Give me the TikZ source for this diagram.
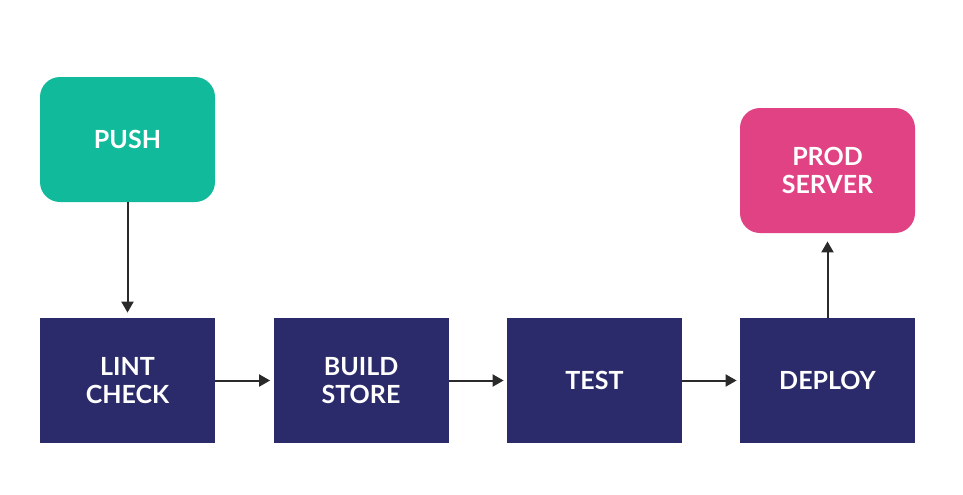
\documentclass[tikz,border=0pt]{standalone}
\usepackage{fontspec}
\setmainfont{Lato}
\usetikzlibrary{arrows.meta}
\definecolor{pushgreen}{HTML}{10BA9B}
\definecolor{stagenavy}{HTML}{2B2A6A}
\definecolor{prodpink}{HTML}{E04284}
\definecolor{arrowgray}{HTML}{2A2A2A}
\begin{document}
\begin{tikzpicture}[x=0.5pt, y=-0.5pt]
\tikzstyle{basic}=[minimum width=87.5pt, minimum height=62.5pt, inner sep=0pt, align=center, text=white, font=\bfseries\fontsize{12.5}{14}\selectfont]
\tikzstyle{stage}=[basic, fill=stagenavy]
\tikzstyle{trigger}=[basic, fill=pushgreen, rounded corners=10pt]
\tikzstyle{target}=[basic, fill=prodpink, rounded corners=10pt]
\tikzstyle{edgestyle}=[line width=1pt, draw=arrowgray, -{Triangle[length=5.5pt, width=6pt]}, shorten >=1.5pt]
\useasboundingbox (0,0) rectangle (963,494);
\node[trigger] (op0o0) at (127.5,139.5) {PUSH};
\node[target] (op0o3) at (827.5,170.5) {PROD\\SERVER};

\node[stage] (op1o0) at (127.5,380.5) {LINT\\CHECK};
\node[stage] (op1o1) at (361,380.5) {BUILD\\STORE};
\node[stage] (op1o2) at (594.5,380.5) {TEST};
\node[stage] (op1o3) at (827.5,380.5) {DEPLOY};

\draw (op0o0) edge[edgestyle, shorten >=2.5pt] (op1o0);
\draw (op1o0) edge[edgestyle] (op1o1);
\draw (op1o1) edge[edgestyle] (op1o2);
\draw (op1o2) edge[edgestyle] (op1o3);
\draw (op1o3) edge[edgestyle, shorten >=4pt] (op0o3);
\end{tikzpicture}
\end{document}
